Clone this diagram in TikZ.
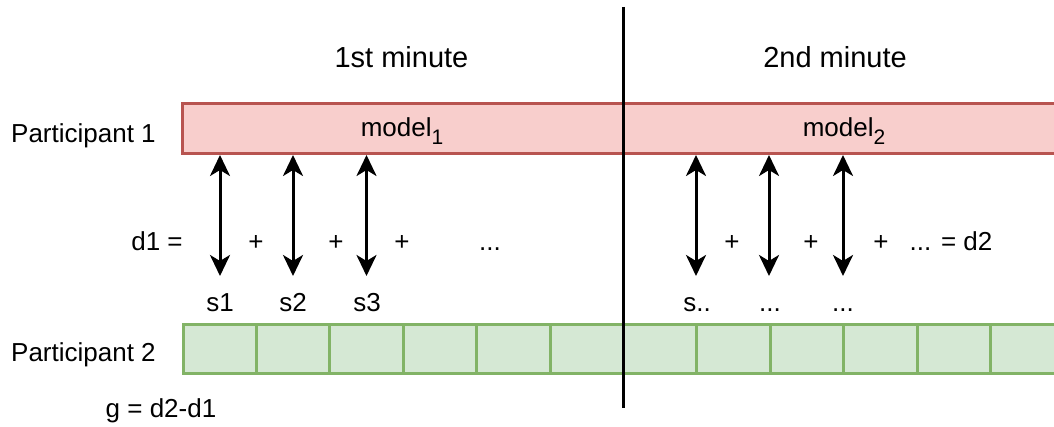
\documentclass[tikz,border=0pt]{standalone}
\usepackage{fontspec}
\setmainfont{Liberation Sans}
\usetikzlibrary{arrows.meta}
\definecolor{pinkfill}{HTML}{F8CECC}
\definecolor{pinkline}{HTML}{B85450}
\definecolor{greenfill}{HTML}{D5E8D4}
\definecolor{greenline}{HTML}{82B366}
\newcommand{\subnum}[1]{\raisebox{-0.28em}{\fontsize{21}{21}\selectfont #1}}
\begin{document}
\begin{tikzpicture}[x=1pt,y=-1pt,
  lbl/.style={font=\fontsize{26}{31}\selectfont, inner sep=0pt, anchor=base},
  head/.style={font=\fontsize{29}{34}\selectfont, inner sep=0pt, anchor=base},
  pinkbar/.style={draw=pinkline, fill=pinkfill, line width=3pt},
  greencell/.style={draw=greenline, fill=greenfill, line width=3pt},
  dbl/.style={line width=3pt, {Stealth[length=21pt,width=20pt,inset=6pt]}-{Stealth[length=21pt,width=20pt,inset=6pt]}}]
\useasboundingbox (0,0) rectangle (1054,427);
\clip (0,0) rectangle (1054,427);
% pink bar
\draw[pinkbar] (182,104) rectangle (1070,154);
% green cells
\foreach \i in {0,...,12} {
  \draw[greencell] ({183+73.4*\i},325) rectangle ({183+73.4*(\i+1)},373);
}
% divider
\coordinate (vtop) at (623,7);
\coordinate (vbot) at (623,408);
\draw[line width=3pt] (vtop) -- (vbot);
% headings
\node[head] (h1) at (401.5,68) {1st minute};
\node[head] (h2) at (835,68) {2nd minute};
% participants
\node[lbl, anchor=base west] (p1) at (11,142.5) {Participant 1};
\node[lbl, anchor=base west] (p2) at (11,361) {Participant 2};
% models
\node[lbl] (m1) at (402,137) {model\subnum{1}};
\node[lbl] (m2) at (844,137) {model\subnum{2}};
% arrows
\foreach \n/\x in {a1/220,a2/293,a3/366.5,b1/696,b2/769,b3/843} {
  \coordinate (\n t) at (\x,155);
  \coordinate (\n b) at (\x,276);
  \draw[dbl] (\n t) -- (\n b);
}
% sum line
\node[lbl] (d1) at (157,251) {d1 =};
\node[lbl] (pl1) at (256,251) {+};
\node[lbl] (pl2) at (336,251) {+};
\node[lbl] (pl3) at (402,251) {+};
\node[lbl] (dots1) at (490,251) {...};
\node[lbl] (pr1) at (732,251) {+};
\node[lbl] (pr2) at (811,251) {+};
\node[lbl] (pr3) at (881,251) {+};
\node[lbl] (d2) at (951,251) {... = d2};
% samples
\node[lbl] (s1) at (220,311.5) {s1};
\node[lbl] (s2) at (293,311.5) {s2};
\node[lbl] (s3) at (367,311.5) {s3};
\node[lbl] (s4) at (697,311.5) {s..};
\node[lbl] (s5) at (770,311.5) {...};
\node[lbl] (s6) at (843,311.5) {...};
% gap
\node[lbl] (g) at (161,417) {g = d2-d1};
\end{tikzpicture}
\end{document}
